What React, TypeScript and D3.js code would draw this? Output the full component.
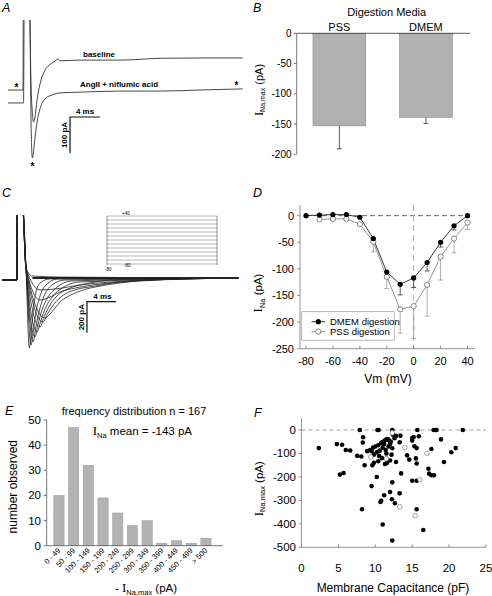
import React from "react";
import * as d3 from "d3";

const W = 492;
const H = 596;
const FONT = "'Liberation Sans', Arial, Helvetica, sans-serif";
const SERIF = "'Liberation Serif', 'Times New Roman', serif";

type P = [number, number];

// ---------- Panel A: traces (ms, pA) ----------
const traceBaseline: P[] = [
  [0, 0], [2.0, 0], [2.04, 260], [2.83, 260], [3.07, 14], [3.27, -69], [3.4, -89],
  [3.6, -75], [3.87, -28], [4.27, 17], [4.8, 50], [5.47, 69], [6.13, 78], [6.67, 86],
  [6.93, 81], [9.6, 83], [14.9, 83], [20.3, 88], [25.6, 89], [31.3, 89],
];
const traceAngII: P[] = [
  [0, -36], [2.07, -36], [2.17, 260], [2.88, 260], [3.07, -83], [3.24, -189], [3.4, -172],
  [3.6, -133], [3.93, -83], [4.4, -44], [5.07, -22], [5.87, -14], [6.93, -8], [9.6, -6],
  [14.9, -3], [20.3, -3], [25.6, 0], [31.3, 3],
];
const scaleBarA = { t0: 8.27, i0: -75, dt: 4, di: 100 };

// ---------- Panel B ----------
const mediaNames = ["PSS", "DMEM"];
const mediaMean = [-153, -139];
const mediaErr = [38, 10];
const bTicks = [0, -50, -100, -150, -200];

// ---------- Panel C ----------
const cPrefix: P[] = [[0, -13], [2.07, -13], [2.1, 520], [2.76, 520], [3.31, 65]];
const cBodies: P[][] = [
  [[3.77, -452], [4.0, -368], [4.28, -219], [4.69, -90], [5.24, -32], [6.62, -6]],
  [[4.0, -432], [4.28, -355], [4.69, -219], [5.24, -116], [6.07, -45], [7.72, -6]],
  [[4.28, -413], [4.69, -310], [5.24, -194], [5.93, -103], [6.9, -45], [8.69, -13]],
  [[4.55, -381], [4.97, -297], [5.52, -206], [6.34, -123], [7.45, -65], [9.66, -19]],
  [[4.83, -348], [5.38, -271], [6.07, -187], [7.03, -116], [8.28, -65], [10.76, -26]],
  [[5.24, -316], [5.79, -252], [6.62, -174], [7.72, -110], [9.1, -71], [12.14, -32], [14.9, -13]],
  [[5.66, -284], [6.34, -226], [7.17, -168], [8.28, -116], [10.07, -77], [12.83, -52], [17.66, -19]],
  [[5.93, -258], [6.62, -232], [7.31, -194], [8.0, -155], [8.97, -123], [10.76, -84], [13.52, -52], [16.28, -32], [20.41, -13]],
  [[5.24, -142], [6.62, -123], [8.0, -90], [10.07, -65], [13.52, -39], [19.03, -19]],
  [[5.24, -77], [7.31, -71], [10.76, -45], [14.9, -26], [20.41, -13]],
  [[4.14, 13], [8.0, 6]],
];
const cEnd: P = [32.6, 0];
const scaleBarC = { t0: 11.72, i0: -153, dt: 4, di: 200 };
const stepVoltages = [40, 30, 20, 10, 0, -10, -20, -30, -40, -50, -60, -70, -80];

// ---------- Panel D ----------
const dmemVm = [-80, -70, -60, -50, -40, -30, -20, -10, 0, 10, 20, 30, 40];
const dmemI = [0, 1, 2, 2, -3, -43, -106, -129, -117, -88, -50, -19, 0];
const dmemErr = [0, 0, 0, 0, 1, 8, 11, 20, 18, 16, 9, 8, 0];
const pssVm = [-70, -60, -50, -40, -30, -20, -10, 0, 10, 20, 30, 40];
const pssI = [-7, -6, -6, -16, -49, -115, -176, -170, -130, -77, -43, -13];
const pssErr = [2, 2, 2, 3, 19, 22, 45, 61, 59, 44, 27, 13];
const dYTicks = [0, -50, -100, -150, -200, -250];
const dXTicks = [-80, -60, -40, -20, 0, 20, 40];

// ---------- Panel E ----------
const binLabels = ["0 - 49", "50 - 99", "100 - 149", "150 - 199", "200 - 249", "250 - 299", "300 - 349", "350 - 399", "400 - 449", "450 - 499", "> 500"];
const binCounts = [20, 47, 32, 19, 13, 8, 10, 1, 2, 1, 3];
const eTicks = [0, 10, 20, 30, 40, 50];

// ---------- Panel F ----------
const capFilled: P[] = [
  [2.35, -77], [4.8, -60], [5.5, -63], [6.0, -85], [6.6, -87], [5.2, -190], [5.7, -183],
  [7.9, 0], [8.35, -31], [8.3, -53], [7.55, -110], [8.1, -113], [8.55, -150], [8.9, -90], [8.2, -338],
  [9.5, -239], [10.2, -200], [10.7, -307], [10.8, -302], [11.0, -403], [11.2, -278],
  [10.3, 0], [10.45, 0], [9.5, -90], [9.7, -75], [9.6, -150], [9.8, -140], [10.4, -133], [9.3, -85],
  [10.0, -70], [10.4, -65], [10.8, -55], [11.0, -50], [11.3, -45], [11.5, -40], [11.7, -38], [11.9, -45],
  [12.1, -50], [11.2, -60], [11.0, -75], [10.6, -88], [11.4, -85], [11.8, -70], [12.0, -60], [10.2, -95],
  [9.8, -105], [10.5, -110], [11.6, -140], [12.4, -20], [12.6, -35], [12.8, -25], [12.3, -78], [12.2, -105],
  [12.8, -136], [11.5, -100], [12.0, -130], [10.9, -120], [11.3, -145],
  [12.3, 0], [12.25, -295], [12.3, -471], [12.3, -223], [12.0, -264], [13.3, -270], [12.66, -312],
  [13.4, -24], [13.5, -185], [13.3, -52],
  [14.3, -108], [14.6, -126], [15.0, -34], [15.0, -45], [15.2, -30], [15.9, -27], [15.3, -69], [15.6, -77],
  [15.5, -121], [15.6, -143], [15.0, -216], [15.6, -216], [15.6, -338], [16.5, -426],
  [15.7, 0], [17.9, 0], [18.1, 0], [18.3, 0], [21.85, 0],
  [17.6, -81], [18.9, -40], [20.3, -95], [20.9, -77], [19.3, -136], [17.2, -165], [17.3, -186], [17.6, -193], [17.95, -193],
];
const capOpen: P[] = [
  [9.4, -115], [11.5, -122], [12.3, -12], [14.0, -75], [17.0, -99], [16.05, -212], [13.3, -327], [15.4, -365],
];
const fXTicks = [0, 5, 10, 15, 20, 25];
const fYTicks = [0, -100, -200, -300, -400, -500];

function Label({ x, y, children, size = 12.5 }: any) {
  return (
    <text x={x} y={y} fontSize={size} fontStyle="italic" fontFamily={FONT}>
      {children}
    </text>
  );
}

export default function App() {
  // ---- A scales ----
  const xA = d3.scaleLinear().domain([0, 4]).range([8, 38]);
  const yA = d3.scaleLinear().domain([0, 100]).range([90, 54]);
  const lineA = d3.line<P>().x((d) => xA(d[0])).y((d) => yA(d[1])).curve(d3.curveMonotoneX);

  // ---- B scales ----
  const xB = d3.scaleBand<string>().domain(mediaNames).range([296.7, 468.6]).paddingInner(0.39).paddingOuter(0.188);
  const yB = d3.scaleLinear().domain([-200, 0]).range([154.3, 33.3]);

  // ---- C scales ----
  const xC = d3.scaleLinear().domain([0, 4]).range([2, 31]);
  const yC = d3.scaleLinear().domain([0, 200]).range([278, 247]);
  const lineC = d3.line<P>().x((d) => xC(d[0])).y((d) => yC(d[1])).curve(d3.curveMonotoneX);
  const vInset = d3.scaleLinear().domain([-80, 40]).range([264, 216]);

  // ---- D scales ----
  const xD = d3.scaleLinear().domain([-80, 40]).range([306, 467.5]);
  const yD = d3.scaleLinear().domain([-250, 20]).range([348.7, 205]);
  const lineD = d3.line<P>().x((d) => xD(d[0])).y((d) => yD(d[1]));
  const dmemPts: P[] = dmemVm.map((v, i) => [v, dmemI[i]]);
  const pssPts: P[] = pssVm.map((v, i) => [v, pssI[i]]);

  // ---- E scales ----
  const xE = d3.scaleBand<string>().domain(binLabels).range([51.6, 213.3]).paddingInner(0.3).paddingOuter(0.15);
  const yE = d3.scaleLinear().domain([0, 50]).range([545.7, 420]);

  // ---- F scales ----
  const xF = d3.scaleLinear().domain([0, 25]).range([301.5, 486]);
  const yF = d3.scaleLinear().domain([-500, 50]).range([547.3, 418.3]);

  const axisCol = "#555";
  const lightAxis = "#777";

  return (
    <svg
      width={W}
      height={H}
      viewBox={`0 0 ${W} ${H}`}
      style={{ position: "absolute", left: 0, top: 0, background: "#fff" }}
      fontFamily={FONT}
    >
      <defs>
        <clipPath id="clipA">
          <rect x={0} y={20} width={250} height={170} />
        </clipPath>
        <clipPath id="clipC">
          <rect x={0} y={215} width={250} height={170} />
        </clipPath>
      </defs>
      <rect width={W} height={H} fill="#fff" />

      {/* ================= Panel A ================= */}
      <Label x={2} y={12}>A</Label>
      <g clipPath="url(#clipA)">
        <path d={lineA(traceBaseline) || ""} fill="none" stroke="#333" strokeWidth={0.9} />
        <path d={lineA(traceAngII) || ""} fill="none" stroke="#333" strokeWidth={0.9} />
      </g>
      <text x={83} y={57} fontSize={8} fontWeight="bold">baseline</text>
      <text x={80} y={87} fontSize={8} fontWeight="bold">AngII + niflumic acid</text>
      <text x={16.5} y={91} fontSize={10} fontWeight="bold" textAnchor="middle">*</text>
      <text x={236.5} y={89} fontSize={10} fontWeight="bold" textAnchor="middle">*</text>
      <text x={32.5} y={170} fontSize={10} fontWeight="bold" textAnchor="middle">*</text>
      <path
        d={`M${xA(scaleBarA.t0 + scaleBarA.dt)},${yA(scaleBarA.i0)}H${xA(scaleBarA.t0)}V${yA(scaleBarA.i0 - scaleBarA.di)}`}
        fill="none"
        stroke="#111"
        strokeWidth={1.2}
      />
      <text x={xA(scaleBarA.t0 + scaleBarA.dt / 2)} y={yA(scaleBarA.i0) - 3} fontSize={8} fontWeight="bold" textAnchor="middle">4 ms</text>
      <text
        transform={`translate(${xA(scaleBarA.t0) - 3},${yA(scaleBarA.i0 - scaleBarA.di / 2)}) rotate(-90)`}
        fontSize={8}
        fontWeight="bold"
        textAnchor="middle"
      >
        100 pA
      </text>

      {/* ================= Panel B ================= */}
      <Label x={253} y={12}>B</Label>
      <text x={386.7} y={16} fontSize={11} textAnchor="middle">Digestion Media</text>
      {mediaNames.map((m, i) => {
        const x0 = xB(m) as number;
        const bw = xB.bandwidth();
        const cx = x0 + bw / 2;
        return (
          <g key={m}>
            <text x={cx} y={30.5} fontSize={11} textAnchor="middle">{m}</text>
            <rect x={x0} y={yB(0)} width={bw} height={yB(mediaMean[i]) - yB(0)} fill="#b0b0b0" stroke="#8a8a8a" strokeWidth={0.6} />
            <line x1={cx} x2={cx} y1={yB(mediaMean[i])} y2={yB(mediaMean[i] - mediaErr[i])} stroke="#333" strokeWidth={0.8} />
            <line x1={cx - 2.5} x2={cx + 2.5} y1={yB(mediaMean[i] - mediaErr[i])} y2={yB(mediaMean[i] - mediaErr[i])} stroke="#333" strokeWidth={0.8} />
          </g>
        );
      })}
      <line x1={296.7} x2={470} y1={yB(0)} y2={yB(0)} stroke="#333" strokeWidth={0.8} />
      <line x1={296.7} x2={296.7} y1={yB(0)} y2={yB(-200)} stroke={axisCol} strokeWidth={0.8} />
      {bTicks.map((t) => (
        <g key={t}>
          <line x1={293.7} x2={296.7} y1={yB(t)} y2={yB(t)} stroke={axisCol} strokeWidth={0.8} />
          <text x={291.5} y={yB(t) + 3.5} fontSize={10} textAnchor="end">{t}</text>
        </g>
      ))}
      <text transform="translate(262.5,90) rotate(-90)" textAnchor="middle" fontSize={11}>
        <tspan fontFamily={SERIF} fontSize={12.5}>I</tspan>
        <tspan fontSize={7} dy={2.5}>Na,max</tspan>
        <tspan dy={-2.5}> (pA)</tspan>
      </text>

      {/* ================= Panel C ================= */}
      <Label x={2} y={197}>C</Label>
      <g clipPath="url(#clipC)">
        {cBodies.map((b, i) => (
          <path key={i} d={lineC([...cPrefix, ...b, cEnd]) || ""} fill="none" stroke="#222" strokeWidth={0.8} />
        ))}
      </g>
      <line x1={xC(0)} x2={xC(2.07)} y1={yC(-13)} y2={yC(-13)} stroke="#222" strokeWidth={2} />
      <line x1={xC(4.2)} x2={xC(32.6)} y1={yC(0)} y2={yC(0)} stroke="#222" strokeWidth={1.8} />
      {/* scale bar */}
      <path
        d={`M${xC(scaleBarC.t0 + scaleBarC.dt)},${yC(scaleBarC.i0)}H${xC(scaleBarC.t0)}V${yC(scaleBarC.i0 - scaleBarC.di)}`}
        fill="none"
        stroke="#111"
        strokeWidth={1.2}
      />
      <text x={xC(scaleBarC.t0 + scaleBarC.dt / 2) + 1} y={yC(scaleBarC.i0) - 3} fontSize={8} fontWeight="bold" textAnchor="middle">4 ms</text>
      <text
        transform={`translate(${xC(scaleBarC.t0) - 3},${yC(scaleBarC.i0 - scaleBarC.di / 2)}) rotate(-90)`}
        fontSize={8}
        fontWeight="bold"
        textAnchor="middle"
      >
        200 pA
      </text>
      {/* voltage protocol inset */}
      {stepVoltages.map((v) => (
        <line key={v} x1={107} x2={217} y1={vInset(v)} y2={vInset(v)} stroke="#888" strokeWidth={0.6} />
      ))}
      <line x1={107} x2={107} y1={vInset(40)} y2={vInset(-80) + 1} stroke="#666" strokeWidth={0.7} />
      <line x1={217} x2={217} y1={vInset(40)} y2={vInset(-80) + 1} stroke="#666" strokeWidth={0.7} />
      <text x={122} y={vInset(40) - 1.5} fontSize={4.5}>+40</text>
      <text x={124} y={vInset(-80) + 3} fontSize={4.5}>-80</text>
      <text x={105} y={vInset(-80) + 7} fontSize={4.5}>-80</text>

      {/* ================= Panel D ================= */}
      <Label x={253} y={197}>D</Label>
      <line x1={xD(-80)} x2={xD(40)} y1={yD(0)} y2={yD(0)} stroke="#444" strokeWidth={0.8} strokeDasharray="5,3" />
      <line x1={xD(0)} x2={xD(0)} y1={yD(20)} y2={yD(-250)} stroke="#aaa" strokeWidth={1} strokeDasharray="6,4" />
      {pssPts.map((d, i) => (
        <g key={"pe" + i}>
          <line x1={xD(d[0])} x2={xD(d[0])} y1={yD(d[1])} y2={yD(d[1] - pssErr[i])} stroke="#999" strokeWidth={0.8} />
          <line x1={xD(d[0]) - 2.5} x2={xD(d[0]) + 2.5} y1={yD(d[1] - pssErr[i])} y2={yD(d[1] - pssErr[i])} stroke="#999" strokeWidth={0.8} />
        </g>
      ))}
      {dmemPts.map((d, i) =>
        dmemErr[i] > 0 ? (
          <g key={"de" + i}>
            <line x1={xD(d[0])} x2={xD(d[0])} y1={yD(d[1])} y2={yD(d[1] - dmemErr[i])} stroke="#333" strokeWidth={0.8} />
            <line x1={xD(d[0]) - 2.5} x2={xD(d[0]) + 2.5} y1={yD(d[1] - dmemErr[i])} y2={yD(d[1] - dmemErr[i])} stroke="#333" strokeWidth={0.8} />
          </g>
        ) : null
      )}
      <path d={lineD(pssPts) || ""} fill="none" stroke="#888" strokeWidth={0.9} />
      <path d={lineD(dmemPts) || ""} fill="none" stroke="#222" strokeWidth={0.9} />
      {pssPts.map((d, i) => (
        <circle key={"pc" + i} cx={xD(d[0])} cy={yD(d[1])} r={2.6} fill="#fff" stroke="#666" strokeWidth={0.8} />
      ))}
      {dmemPts.map((d, i) => (
        <circle key={"dc" + i} cx={xD(d[0])} cy={yD(d[1])} r={2.6} fill="#000" />
      ))}
      <line x1={300} x2={300} y1={yD(20)} y2={yD(-250)} stroke={lightAxis} strokeWidth={0.8} />
      <line x1={300} x2={xD(45.5)} y1={yD(-250)} y2={yD(-250)} stroke={lightAxis} strokeWidth={0.8} />
      {dYTicks.map((t) => (
        <g key={"dy" + t}>
          <line x1={297} x2={300} y1={yD(t)} y2={yD(t)} stroke={lightAxis} strokeWidth={0.8} />
          <text x={294} y={yD(t) + 4} fontSize={11} textAnchor="end">{t}</text>
        </g>
      ))}
      {dXTicks.map((t) => (
        <g key={"dx" + t}>
          <line x1={xD(t)} x2={xD(t)} y1={yD(-250)} y2={yD(-250) - 3} stroke={lightAxis} strokeWidth={0.8} />
          <text x={xD(t)} y={365} fontSize={11} textAnchor="middle">{t}</text>
        </g>
      ))}
      <text x={388} y={383} fontSize={12} textAnchor="middle">Vm (mV)</text>
      <text transform="translate(262,293) rotate(-90)" textAnchor="middle" fontSize={11.5}>
        <tspan fontFamily={SERIF} fontSize={13}>I</tspan>
        <tspan fontSize={7.5} dy={2.5}>Na</tspan>
        <tspan dy={-2.5}> (pA)</tspan>
      </text>
      <rect x={301.7} y={311.7} width={92.5} height={28.5} fill="#fff" stroke="#999" strokeWidth={0.7} />
      <line x1={311.5} x2={325} y1={321.7} y2={321.7} stroke="#222" strokeWidth={0.9} />
      <circle cx={318.3} cy={321.7} r={2.6} fill="#000" />
      <text x={330} y={325.3} fontSize={9.5}>DMEM digestion</text>
      <line x1={311.5} x2={325} y1={331.7} y2={331.7} stroke="#888" strokeWidth={0.9} />
      <circle cx={318.3} cy={331.7} r={2.6} fill="#fff" stroke="#666" strokeWidth={0.8} />
      <text x={330} y={335.3} fontSize={9.5}>PSS digestion</text>

      {/* ================= Panel E ================= */}
      <Label x={5} y={415}>E</Label>
      <text x={134} y={415} fontSize={11} textAnchor="middle">frequency distribution n = 167</text>
      <text x={92.7} y={435} fontSize={11.5}>
        <tspan fontFamily={SERIF} fontSize={13}>I</tspan>
        <tspan fontSize={7.5} dy={2.5}>Na</tspan>
        <tspan dy={-2.5}> mean = -143 pA</tspan>
      </text>
      {binLabels.map((b, i) => {
        const x0 = xE(b) as number;
        const bw = xE.bandwidth();
        return (
          <g key={b}>
            <rect x={x0} y={yE(binCounts[i])} width={bw} height={yE(0) - yE(binCounts[i])} fill="#b3b3b3" stroke="#999" strokeWidth={0.5} />
            <text
              transform={`translate(${x0 + bw / 2 + 2},${551}) rotate(-45)`}
              fontSize={7.5}
              textAnchor="end"
              fill="#000"
            >
              {b}
            </text>
          </g>
        );
      })}
      <line x1={46.7} x2={46.7} y1={yE(50)} y2={yE(0)} stroke={axisCol} strokeWidth={0.8} />
      <line x1={46.7} x2={223} y1={yE(0)} y2={yE(0)} stroke={axisCol} strokeWidth={0.8} />
      {eTicks.map((t) => (
        <g key={"ey" + t}>
          <line x1={43.7} x2={46.7} y1={yE(t)} y2={yE(t)} stroke={axisCol} strokeWidth={0.8} />
          <text x={41} y={yE(t) + 4} fontSize={11.5} textAnchor="end">{t}</text>
        </g>
      ))}
      <text transform="translate(16.5,486.7) rotate(-90)" fontSize={12} textAnchor="middle">number observed</text>
      <text x={146} y={592} fontSize={11.5} textAnchor="middle">
        <tspan>- </tspan>
        <tspan fontFamily={SERIF} fontSize={13}>I</tspan>
        <tspan fontSize={7.5} dy={2.5}>Na,max</tspan>
        <tspan dy={-2.5}> (pA)</tspan>
      </text>

      {/* ================= Panel F ================= */}
      <Label x={254} y={417}>F</Label>
      <line x1={xF(0)} x2={xF(25)} y1={yF(0)} y2={yF(0)} stroke="#888" strokeWidth={0.8} strokeDasharray="4,3" />
      {capFilled.map((d, i) => (
        <circle key={"ff" + i} cx={xF(d[0])} cy={yF(d[1])} r={2.3} fill="#000" />
      ))}
      {capOpen.map((d, i) => (
        <circle key={"fo" + i} cx={xF(d[0])} cy={yF(d[1])} r={2.3} fill="#fff" stroke="#777" strokeWidth={0.7} />
      ))}
      <line x1={301.5} x2={301.5} y1={yF(50)} y2={yF(-500)} stroke={lightAxis} strokeWidth={0.8} />
      <line x1={301.5} x2={486} y1={yF(-500)} y2={yF(-500)} stroke={lightAxis} strokeWidth={0.8} />
      {fYTicks.map((t) => (
        <g key={"fy" + t}>
          <line x1={298.5} x2={301.5} y1={yF(t)} y2={yF(t)} stroke={lightAxis} strokeWidth={0.8} />
          <text x={296} y={yF(t) + 4} fontSize={11.5} textAnchor="end">{t}</text>
        </g>
      ))}
      {fXTicks.map((t) => (
        <g key={"fx" + t}>
          <line x1={xF(t)} x2={xF(t)} y1={yF(-500)} y2={yF(-500) - 3} stroke={lightAxis} strokeWidth={0.8} />
          <text x={xF(t)} y={572} fontSize={11.5} textAnchor="middle">{t}</text>
        </g>
      ))}
      <text x={393} y={592} fontSize={12} textAnchor="middle">Membrane Capacitance (pF)</text>
      <text transform="translate(262.5,488.7) rotate(-90)" textAnchor="middle" fontSize={11.5}>
        <tspan fontFamily={SERIF} fontSize={13}>I</tspan>
        <tspan fontSize={7.5} dy={2.5}>Na,max</tspan>
        <tspan dy={-2.5}> (pA)</tspan>
      </text>
    </svg>
  );
}
